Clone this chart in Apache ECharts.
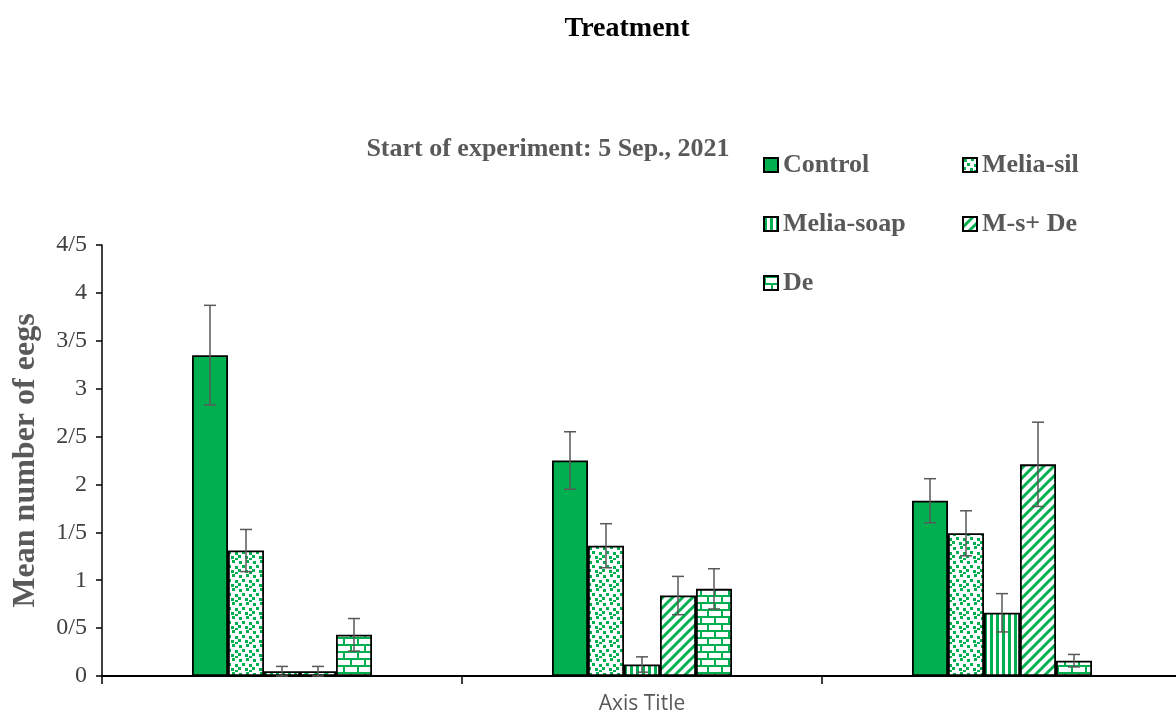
<!DOCTYPE html>
<html>
<head>
<meta charset="utf-8">
<script src="https://cdn.jsdelivr.net/npm/echarts@6/dist/echarts.min.js"></script>
<style>
  html, body { margin: 0; padding: 0; background: #fff; }
  #chart { width: 1176px; height: 716px; }
</style>
</head>
<body>
<div id="chart"></div>
<script>
  // data
  var categories = ['1', '2', '3'];
  var seriesNames = ['Control', 'Melia-sil', 'Melia-soap', 'M-s+ De', 'De'];
  var control = [3.35, 2.25, 1.83];
  var meliaSil = [1.31, 1.36, 1.49];
  var meliaSoap = [0.05, 0.12, 0.66];
  var msDe = [0.05, 0.84, 2.21];
  var de = [0.43, 0.91, 0.16];
  var controlErr = [0.52, 0.30, 0.23];
  var meliaSilErr = [0.22, 0.23, 0.235];
  var meliaSoapErr = [0.05, 0.08, 0.20];
  var msDeErr = [0.05, 0.20, 0.44];
  var deErr = [0.17, 0.21, 0.065];

  var GREEN = '#00B050';
  var SERIF = 'Liberation Serif';

  function pattern(w, h, draw) {
    var c = document.createElement('canvas');
    c.width = w; c.height = h;
    var ctx = c.getContext('2d');
    ctx.fillStyle = '#fff';
    ctx.fillRect(0, 0, w, h);
    ctx.fillStyle = GREEN;
    ctx.strokeStyle = GREEN;
    draw(ctx);
    return { image: c, repeat: 'repeat' };
  }

  var fills = [
    GREEN,
    // large confetti
    pattern(14, 14, function (ctx) {
      [[1, 1], [8, 0], [4, 5], [11, 6], [0, 9], [7, 10], [11, 12]].forEach(function (p) {
        ctx.fillRect(p[0], p[1], 3, 3);
      });
    }),
    // wide vertical stripes
    pattern(6, 6, function (ctx) {
      ctx.fillRect(0, 0, 3, 6);
    }),
    // wide upward diagonal
    pattern(10, 10, function (ctx) {
      ctx.lineWidth = 3;
      ctx.beginPath();
      ctx.moveTo(-2, 12); ctx.lineTo(12, -2);
      ctx.moveTo(-7, 7); ctx.lineTo(7, -7);
      ctx.moveTo(3, 17); ctx.lineTo(17, 3);
      ctx.stroke();
    }),
    // horizontal brick
    pattern(14, 14, function (ctx) {
      ctx.fillRect(0, 0, 14, 2);
      ctx.fillRect(0, 7, 14, 2);
      ctx.fillRect(0, 0, 2, 7);
      ctx.fillRect(7, 7, 2, 7);
    })
  ];

  var values = [control, meliaSil, meliaSoap, msDe, de];
  var errors = [controlErr, meliaSilErr, meliaSoapErr, msDeErr, deErr];

  var series = [];
  seriesNames.forEach(function (name, i) {
    series.push({
      name: name,
      type: 'bar',
      barGap: '0%',
      barCategoryGap: '50%',
      data: values[i],
      itemStyle: { color: fills[i], borderColor: '#000', borderWidth: 1.8 },
      emphasis: { disabled: true }
    });
  });
  seriesNames.forEach(function (name, i) {
    series.push({
      name: name + ' err',
      type: 'custom',
      z: 10,
      data: values[i].map(function (v, k) { return [k, v, errors[i][k]]; }),
      renderItem: function (params, api) {
        var x = api.value(0), y = api.value(1), e = api.value(2);
        var catW = api.size([1, 0])[0];
        var bw = catW * 0.5 / 5;
        var off = (i - 2) * bw;
        var top = api.coord([x, y + e]);
        var bot = api.coord([x, Math.max(0, y - e)]);
        var cx = top[0] + off;
        var st = { stroke: '#595959', lineWidth: 1.5 };
        return {
          type: 'group',
          children: [
            { type: 'line', shape: { x1: cx, y1: top[1], x2: cx, y2: bot[1] }, style: st },
            { type: 'line', shape: { x1: cx - 6, y1: top[1], x2: cx + 6, y2: top[1] }, style: st },
            { type: 'line', shape: { x1: cx - 6, y1: bot[1], x2: cx + 6, y2: bot[1] }, style: st }
          ]
        };
      }
    });
  });

  var legendText = { fontFamily: SERIF, fontWeight: 'bold', fontSize: 26, color: '#595959' };

  var chart = echarts.init(document.getElementById('chart'));
  chart.setOption({
    animation: false,
    title: [
      {
        text: 'Treatment',
        left: 622, top: 10, textAlign: 'center',
        textStyle: { fontFamily: SERIF, fontWeight: 'bold', fontSize: 28, color: '#000' }
      },
      {
        text: 'Start of experiment: 5 Sep., 2021',
        left: 543, top: 131, textAlign: 'center',
        textStyle: { fontFamily: SERIF, fontWeight: 'bold', fontSize: 26, color: '#595959' }
      }
    ],
    legend: [
      {
        data: ['Control', 'Melia-soap', 'De'],
        orient: 'vertical', left: 763, top: 152, padding: 0, icon: 'rect',
        itemWidth: 14, itemHeight: 14, itemGap: 33, itemTextGap: 6,
        selectedMode: false, textStyle: legendText
      },
      {
        data: ['Melia-sil', 'M-s+ De'],
        orient: 'vertical', left: 962, top: 152, padding: 0, icon: 'rect',
        itemWidth: 14, itemHeight: 14, itemGap: 33, itemTextGap: 6,
        selectedMode: false, textStyle: legendText
      }
    ],
    grid: { left: 102, top: 245, bottom: 40, width: 1080, outerBoundsMode: 'none', containLabel: false },
    xAxis: {
      type: 'category',
      data: categories,
      name: 'Axis Title',
      nameLocation: 'middle',
      nameGap: 18,
      nameTextStyle: { fontFamily: 'Open Sans', fontSize: 21, color: '#595959' },
      axisLine: { lineStyle: { color: '#000', width: 2 } },
      axisTick: { show: true, length: 8, interval: 0, lineStyle: { color: '#000', width: 1.5 } },
      axisLabel: { show: false }
    },
    yAxis: {
      type: 'value',
      min: 0, max: 4.5, interval: 0.5,
      name: 'Mean number of eegs',
      nameLocation: 'middle',
      nameGap: 60,
      nameTextStyle: { fontFamily: SERIF, fontWeight: 'bold', fontSize: 32, color: '#595959' },
      axisLine: { show: true, lineStyle: { color: '#000', width: 1.5 } },
      axisTick: { show: true, length: 6, lineStyle: { color: '#000', width: 1.5 } },
      axisLabel: {
        margin: 15,
        fontFamily: SERIF, fontSize: 24, color: '#404040',
        formatter: function (v) { return String(v).replace('.', '/'); }
      },
      splitLine: { show: false }
    },
    series: series
  });
</script>
</body>
</html>
